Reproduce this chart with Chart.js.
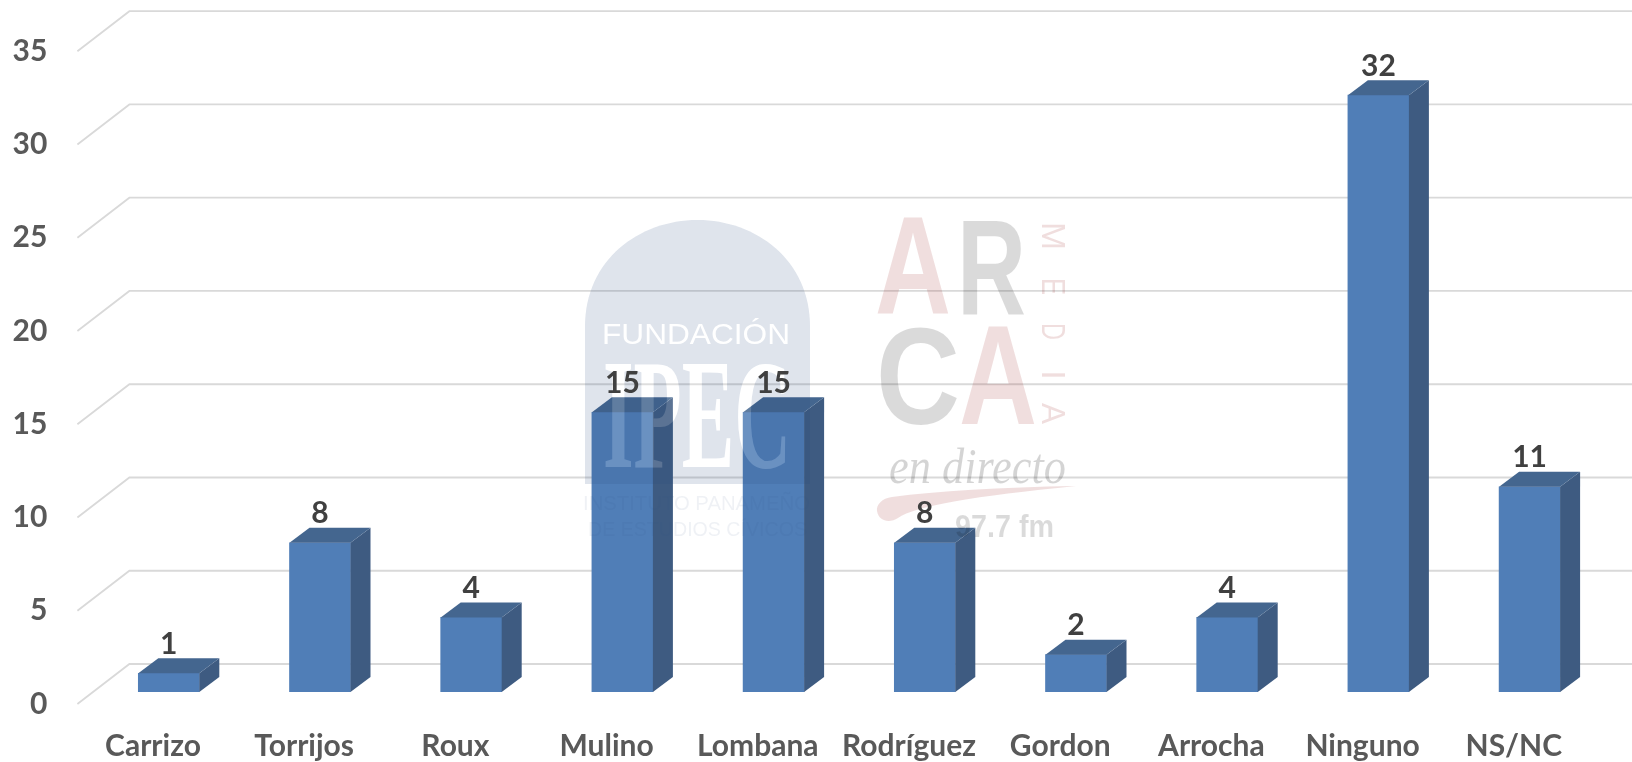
<!DOCTYPE html>
<html lang="es">
<head>
<meta charset="utf-8">
<title>Chart</title>
<style>html,body{margin:0;padding:0;background:#fff}#wrap{width:1632px;height:762px;position:relative}canvas{display:block}</style>
<script src="https://cdn.jsdelivr.net/npm/chart.js@4"></script>
</head>
<body>
<div id="wrap"><canvas id="c"></canvas></div>
<script>
const categories = ["Carrizo","Torrijos","Roux","Mulino","Lombana","Rodríguez","Gordon","Arrocha","Ninguno","NS/NC"];
const values = [1,8,4,15,15,8,2,4,32,11];
const yMax = 35;
const yStep = 5;

const FONT = 'Lato, "Open Sans", sans-serif';
const DX = 20, DY = 15;           // depth of each bar
const SHIFT_X = 15.8, SHIFT_Y = -12; // bars stand in the middle of the floor
const WALL_X = 52, WALL_Y = -40;  // back wall offset
const COL_FRONT = '#507eb7', COL_SIDE = '#3e5b81', COL_TOP = '#44668f';

function fit(ctx, text, x0, x1, baseline, font) {
  ctx.save();
  ctx.font = font;
  ctx.textAlign = 'left';
  ctx.textBaseline = 'alphabetic';
  const w = ctx.measureText(text).width;
  ctx.translate(x0, baseline);
  ctx.scale((x1 - x0) / w, 1);
  ctx.fillText(text, 0, 0);
  ctx.restore();
}

function drawIpec(main) {
  const off = document.createElement('canvas');
  off.width = 1632; off.height = 762;
  const g = off.getContext('2d');
  const L = 585, R = 810, T = 220, B = 484, r = (R - L) / 2;
  g.fillStyle = 'rgb(41,75,128)';
  g.beginPath();
  g.moveTo(L, B);
  g.lineTo(L, T + r - 6);
  g.bezierCurveTo(L, T + 40, L + 54, T, L + r, T);
  g.bezierCurveTo(R - 54, T, R, T + 40, R, T + r - 6);
  g.lineTo(R, B);
  g.closePath();
  g.fill();
  g.fillStyle = '#fff';
  fit(g, 'FUNDACIÓN', 602, 790, 344, '30px "Liberation Sans"');
  fit(g, 'IPEC', 603, 791, 467, 'bold 156px "Liberation Serif"');
  g.globalAlpha = 0.5;
  g.fillStyle = 'rgb(41,75,128)';
  fit(g, 'INSTITUTO PANAMEÑO', 583, 810, 510, '20px "Liberation Sans"');
  fit(g, 'DE ESTUDIOS CÍVICOS', 588, 807, 536, '20px "Liberation Sans"');
  main.save();
  main.globalAlpha = 0.15;
  main.drawImage(off, 0, 0);
  main.restore();
}

function drawArca(ctx) {
  const PINK = 'rgba(155,35,35,0.15)', GREY = 'rgba(0,0,0,0.145)';
  ctx.save();
  const big = (h) => `bold ${h / 0.716}px "Liberation Sans"`;
  ctx.fillStyle = PINK;
  fit(ctx, 'A', 875, 951, 314, big(99));
  fit(ctx, 'A', 959, 1037, 424, big(101));
  ctx.fillStyle = GREY;
  fit(ctx, 'R', 957, 1026, 314, big(97));
  fit(ctx, 'C', 876, 960, 424, big(98));
  // vertical MEDIA
  ctx.fillStyle = PINK;
  [['M', 222, 28], ['E', 278, 17], ['D', 323, 17], ['I', 370, 10], ['A', 403, 21]].forEach(([ch, y, len]) => {
    ctx.save();
    ctx.translate(1042, y);
    ctx.rotate(Math.PI / 2);
    fit(ctx, ch, 0, len, 0, '33px "Liberation Sans"');
    ctx.restore();
  });
  // script line
  ctx.fillStyle = 'rgba(0,0,0,0.17)';
  fit(ctx, 'en directo', 889, 1066, 483, 'italic 50px "Liberation Serif"');
  // swoosh
  ctx.fillStyle = PINK;
  ctx.beginPath();
  ctx.moveTo(1076, 486);
  ctx.quadraticCurveTo(960, 488, 892, 497);
  ctx.bezierCurveTo(882, 498, 876, 505, 877, 511);
  ctx.bezierCurveTo(879, 522, 890, 523, 898, 518);
  ctx.bezierCurveTo(915, 506, 975, 496, 1076, 486);
  ctx.closePath();
  ctx.fill();
  ctx.fillStyle = GREY;
  fit(ctx, '97.7 fm', 955, 1054, 537, 'bold 32px "Liberation Sans"');
  ctx.restore();
}

const bars3d = {
  id: 'bars3d',
  beforeDatasetsDraw(chart) {
    const { ctx, scales: { y }, chartArea: a } = chart;
    ctx.save();
    ctx.strokeStyle = '#d9d9d9';
    ctx.lineWidth = 1.8;
    for (let v = 0; v <= yMax; v += yStep) {
      const py = y.getPixelForValue(v);
      ctx.beginPath();
      ctx.moveTo(a.left, py);
      ctx.lineTo(a.left + WALL_X, py + WALL_Y);
      ctx.lineTo(1632, py + WALL_Y);
      ctx.stroke();
    }
    ctx.restore();
    ctx.save();
    ctx.translate(SHIFT_X, SHIFT_Y);
  },
  afterDatasetsDraw(chart) {
    const { ctx } = chart;
    const els = chart.getDatasetMeta(0).data;
    els.forEach((el) => {
      const l = el.x - el.width / 2, r = el.x + el.width / 2, t = el.y, b = el.base;
      ctx.fillStyle = COL_SIDE;
      ctx.beginPath();
      ctx.moveTo(r, t); ctx.lineTo(r + DX, t - DY); ctx.lineTo(r + DX, b - DY); ctx.lineTo(r, b);
      ctx.closePath(); ctx.fill();
      ctx.fillStyle = COL_TOP;
      ctx.beginPath();
      ctx.moveTo(l, t); ctx.lineTo(l + DX, t - DY); ctx.lineTo(r + DX, t - DY); ctx.lineTo(r, t);
      ctx.closePath(); ctx.fill();
    });
    ctx.restore();
    drawIpec(ctx);
    drawArca(ctx);
    ctx.save();
    ctx.font = 'bold 30px ' + FONT;
    ctx.fillStyle = '#404040';
    ctx.textAlign = 'center';
    ctx.textBaseline = 'alphabetic';
    els.forEach((el, i) => {
      ctx.fillText(String(values[i]), el.x + SHIFT_X, el.y + SHIFT_Y - 19.5);
    });
    ctx.restore();
  }
};

new Chart(document.getElementById('c'), {
  type: 'bar',
  data: {
    labels: categories,
    datasets: [{ data: values, backgroundColor: COL_FRONT, borderWidth: 0, barThickness: 61 }]
  },
  plugins: [bars3d],
  options: {
    responsive: true,
    maintainAspectRatio: false,
    animation: false,
    events: [],
    layout: { padding: { left: 0, right: 42.6, top: 51.2, bottom: 0 } },
    plugins: { legend: { display: false }, tooltip: { enabled: false }, title: { display: false } },
    scales: {
      x: {
        afterFit(s) { s.height = 58; },
        grid: { display: false, drawTicks: false },
        border: { display: false },
        ticks: { padding: 24, maxRotation: 0, minRotation: 0, autoSkip: false, color: '#595959', font: { family: FONT, size: 30, weight: 'bold' } }
      },
      y: {
        min: 0, max: yMax,
        afterFit(s) { s.width = 77.4; },
        grid: { display: false, drawTicks: false },
        border: { display: false },
        ticks: { stepSize: yStep, padding: 30, color: '#595959', font: { family: FONT, size: 30, weight: 'bold' } }
      }
    }
  }
});
</script>
</body>
</html>
